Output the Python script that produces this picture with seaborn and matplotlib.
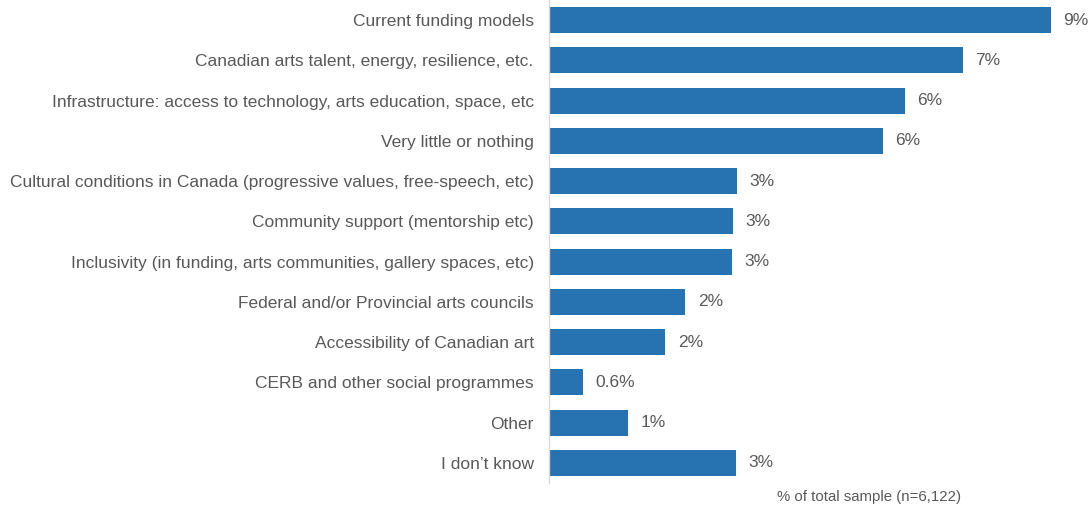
import matplotlib
matplotlib.use("Agg")
import matplotlib.pyplot as plt
import seaborn as sns
import pandas as pd

categories = [
    "Current funding models",
    "Canadian arts talent, energy, resilience, etc.",
    "Infrastructure: access to technology, arts education, space, etc",
    "Very little or nothing",
    "Cultural conditions in Canada (progressive values, free-speech, etc)",
    "Community support (mentorship etc)",
    "Inclusivity (in funding, arts communities, gallery spaces, etc)",
    "Federal and/or Provincial arts councils",
    "Accessibility of Canadian art",
    "CERB and other social programmes",
    "Other",
    "I don\u2019t know",
]
shares = [8.85, 7.3, 6.27, 5.88, 3.32, 3.25, 3.23, 2.4, 2.05, 0.6, 1.4, 3.3]
axis_note = "% of total sample (n=6,122)"

df = pd.DataFrame({"category": categories, "share": shares})

sns.set_theme(style="white")
plt.rcParams["font.family"] = ["Liberation Sans", "DejaVu Sans"]

TEXT = "#595959"
BAR = "#2772b1"

fig = plt.figure(figsize=(10.91, 5.12), dpi=100)
ax = fig.add_axes([549 / 1091, 29 / 512, 540 / 1091, 483 / 512])

sns.barplot(data=df, x="share", y="category", orient="h", color=BAR,
            saturation=1, width=0.64, ax=ax, edgecolor="none")

ax.set_xlim(0, 9.52)
ax.set_ylim(len(categories) - 0.5, -0.5)
ax.set_xlabel("")
ax.set_ylabel("")
ax.set_xticks([])
ax.tick_params(axis="y", length=0, pad=11, labelsize=12.5, labelcolor=TEXT)

for s in ["top", "right", "bottom"]:
    ax.spines[s].set_visible(False)
ax.spines["left"].set_color("#d9d9d9")
ax.spines["left"].set_linewidth(1)


def fmt(v):
    return f"{v:.1f}%" if v < 1 else f"{round(v):.0f}%"


for i, v in enumerate(shares):
    ax.annotate(fmt(v), xy=(v, i), xytext=(9, 0), textcoords="offset points",
                ha="left", va="center", fontsize=12.5, color=TEXT)

fig.text(869 / 1091, 1 - 497 / 512, axis_note, ha="center", va="center",
         fontsize=10.8, color=TEXT)

fig.savefig("out.png", dpi=100)
